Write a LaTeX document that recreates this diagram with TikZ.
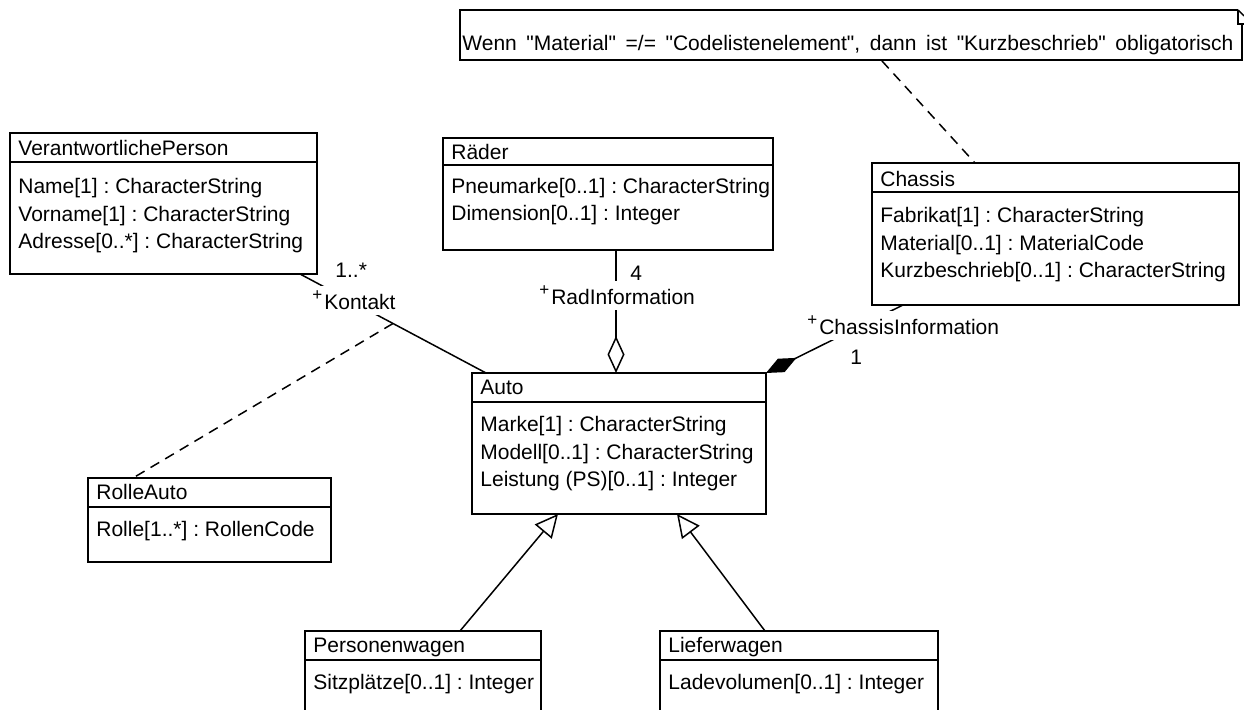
\documentclass[tikz,border=0pt]{standalone}
\usepackage{fontspec}
\newfontfamily\umlfont{Liberation Sans}
\usetikzlibrary{arrows.meta, calc, positioning}

\newcommand{\vis}{{\fontsize{8.5}{8.5}\selectfont\raisebox{4.5pt}{+}}\hspace{1pt}}

\tikzset{
  classbox/.style={draw, line width=0.9pt, inner sep=0pt, outer sep=0pt, anchor=north west},
  txt/.style={anchor=base west, inner sep=0pt},
  lbl/.style={anchor=base west, inner sep=2.5pt, fill=white},
  assoc/.style={line width=0.75pt},
  hint/.style={line width=0.75pt, dash pattern=on 5pt off 3.5pt},
}

\begin{document}
\frenchspacing
\begin{tikzpicture}[x=0.5pt, y=-0.5pt, font=\umlfont\fontsize{10.5}{12}\selectfont]
\useasboundingbox (0,0) rectangle (1244,710);
\clip (0,0) rectangle (1244,710);

%% note
\draw[line width=0.9pt] (1242,24) -- (1242,60) -- (460,60) -- (460,10) -- (1238,10);
\draw[line width=0.7pt] (1238,10) -- (1238,24) -- (1244,24);
\draw[line width=0.7pt] (1238,10) -- (1244,16);
\node[txt] (notetxt) at (462,51) {\spaceskip=4.8pt Wenn "Material" =/= "Codelistenelement", dann ist "Kurzbeschrieb" obligatorisch};

%% classes
\node[classbox, minimum width=153.5pt, minimum height=70.5pt] (person) at (10,133) {};
\draw[line width=0.9pt] (10,162) -- (317,162);
\node[txt] (personT) at (18,156) {VerantwortlichePerson};
\node[txt] (personA) at (18,194) {Name[1] : CharacterString};
\node[txt] (personB) at (18,221.5) {Vorname[1] : CharacterString};
\node[txt] (personC) at (18,249) {Adresse[0..*] : CharacterString};

\node[classbox, minimum width=165pt, minimum height=56pt] (raeder) at (443,138) {};
\draw[line width=0.9pt] (443,165) -- (773,165);
\node[txt] (raederT) at (451,160) {Räder};
\node[txt] (raederA) at (451,193.3) {Pneumarke[0..1] : CharacterString};
\node[txt] (raederB) at (451,220.7) {Dimension[0..1] : Integer};

\node[classbox, minimum width=183.5pt, minimum height=71pt] (chassis) at (872,163) {};
\draw[line width=0.9pt] (872,192) -- (1239,192);
\node[txt] (chassisT) at (880,186.5) {Chassis};
\node[txt] (chassisA) at (880,222.7) {Fabrikat[1] : CharacterString};
\node[txt] (chassisB) at (880,250.2) {Material[0..1] : MaterialCode};
\node[txt] (chassisC) at (880,277.7) {Kurzbeschrieb[0..1] : CharacterString};

\node[classbox, minimum width=147pt, minimum height=70.5pt] (auto) at (472,373) {};
\draw[line width=0.9pt] (472,402) -- (766,402);
\node[txt] (autoT) at (480,395) {Auto};
\node[txt] (autoA) at (480,432) {Marke[1] : CharacterString};
\node[txt] (autoB) at (480,459.5) {Modell[0..1] : CharacterString};
\node[txt] (autoC) at (480,487) {Leistung (PS)[0..1] : Integer};

\node[classbox, minimum width=121.5pt, minimum height=42pt] (rolle) at (88,478) {};
\draw[line width=0.9pt] (88,507) -- (331,507);
\node[txt] (rolleT) at (96,500) {RolleAuto};
\node[txt] (rolleA) at (96,537) {Rolle[1..*] : RollenCode};

\node[classbox, minimum width=118pt, minimum height=42pt] (pkw) at (305,631) {};
\draw[line width=0.9pt] (305,660) -- (541,660);
\node[txt] (pkwT) at (313,653) {Personenwagen};
\node[txt] (pkwA) at (313,690) {Sitzplätze[0..1] : Integer};

\node[classbox, minimum width=139pt, minimum height=42pt] (liefer) at (660,631) {};
\draw[line width=0.9pt] (660,660) -- (938,660);
\node[txt] (lieferT) at (668,653) {Lieferwagen};
\node[txt] (lieferA) at (668,690) {Ladevolumen[0..1] : Integer};

%% connector ends
\coordinate (noteEnd) at (882,61);
\coordinate (chassisTop) at (975,163);
\coordinate (kontaktA) at (300,274);
\coordinate (kontaktB) at (486,373);
\coordinate (kontaktMid) at ($(kontaktA)!0.5!(kontaktB)$);
\coordinate (rolleTop) at (133,478);
\coordinate (radA) at (616,250);
\coordinate (radB) at (616,373);
\coordinate (compA) at (766,373);
\coordinate (compB) at (903,305);
\coordinate (pkwTop) at (460,631);
\coordinate (pkwTip) at (558,514);
\coordinate (lieferTop) at (765,631);
\coordinate (lieferTip) at (677,514);

\draw[hint] (noteEnd) -- (chassisTop);
\draw[assoc] (kontaktA) -- (kontaktB);
\draw[hint] (kontaktMid) -- (rolleTop);
\draw[assoc, {Diamond[open, length=18.5pt, width=8.5pt]}-] (radB) -- (radA);
\draw[assoc, {Diamond[length=17pt, width=7.5pt]}-] (compA) -- (compB);
\draw[assoc, -{Triangle[open, length=11.5pt, width=11pt]}] (pkwTop) -- (pkwTip);
\draw[assoc, -{Triangle[open, length=11.5pt, width=11pt]}] (lieferTop) -- (lieferTip);

%% role names and multiplicities
\node[lbl] (kontakt) at (307,310) {\vis Kontakt};
\node[txt] (kontaktM) at (335,278) {1..*};
\node[lbl] (radinfo) at (534,305) {\vis RadInformation};
\node[txt] (radM) at (630,281) {4};
\node[lbl] (chassisinfo) at (802,335) {\vis ChassisInformation};
\node[txt] (chassisM) at (850,365) {1};

\end{tikzpicture}
\end{document}
